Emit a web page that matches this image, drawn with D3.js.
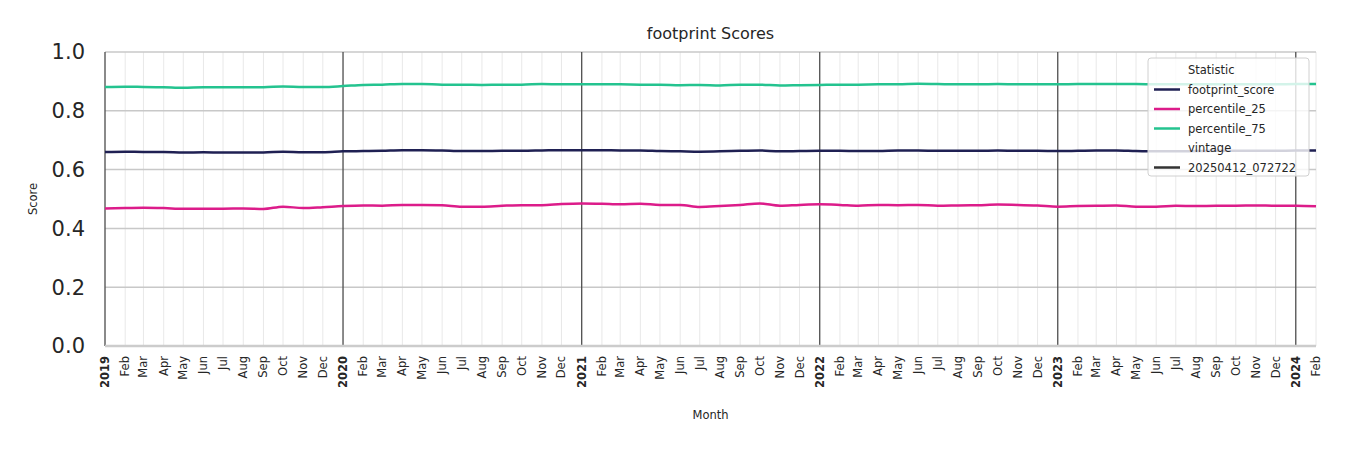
<!DOCTYPE html><html><head><meta charset="utf-8">
<script src="https://cdn.jsdelivr.net/npm/d3@7"></script>
<style>body{margin:0;background:#fff;font-family:"DejaVu Sans",sans-serif}</style></head><body>
<svg id="c" width="1350" height="450"></svg>
<script>
const monthNames=["Jan","Feb","Mar","Apr","May","Jun","Jul","Aug","Sep","Oct","Nov","Dec"];
const footprint=[.660,.661,.660,.660,.658,.659,.658,.658,.658,.661,.659,.659,.662,.663,.664,.666,.666,.665,.663,.663,.664,.664,.665,.666,.666,.666,.665,.665,.663,.662,.661,.662,.664,.665,.662,.663,.664,.664,.663,.663,.665,.665,.664,.664,.664,.665,.664,.664,.663,.664,.665,.665,.663,.662,.662,.663,.664,.664,.664,.664,.665,.665];
const p25=[.468,.469,.470,.469,.467,.467,.467,.468,.466,.474,.469,.472,.476,.478,.477,.480,.480,.479,.474,.474,.477,.479,.479,.483,.485,.484,.482,.484,.480,.480,.473,.476,.480,.485,.477,.480,.482,.480,.477,.480,.479,.480,.477,.478,.479,.481,.480,.478,.474,.476,.477,.478,.474,.474,.477,.476,.477,.477,.478,.477,.477,.475];
const p75=[.881,.882,.881,.880,.878,.880,.880,.880,.880,.883,.881,.881,.884,.888,.889,.891,.891,.889,.889,.888,.889,.889,.891,.890,.890,.890,.890,.889,.889,.887,.888,.886,.889,.889,.886,.887,.888,.889,.889,.890,.890,.892,.891,.890,.890,.891,.890,.890,.890,.891,.891,.891,.891,.890,.890,.890,.890,.890,.890,.890,.891,.891];
const yTicks=[0,0.2,0.4,0.6,0.8,1.0];
const series=[{name:"footprint_score",values:footprint,color:"#1f2053"},{name:"percentile_25",values:p25,color:"#dc1c8a"},{name:"percentile_75",values:p75,color:"#24c38f"}];
const dates=footprint.map((_,i)=>new Date(2019,i,1));
const svg=d3.select("#c");
const L=105,R=1316,T=52,B=346;
const x=d3.scaleTime().domain([dates[0],dates[dates.length-1]]).range([L,R]);
const y=d3.scaleLinear().domain([0,1]).range([B,T]);
// minor month grid
svg.append("g").selectAll("line").data(dates).join("line").attr("x1",d=>x(d)).attr("x2",d=>x(d)).attr("y1",T).attr("y2",B).attr("stroke","#e2e2e2").attr("stroke-width",0.8);
// horizontal grid
svg.append("g").selectAll("line").data(yTicks).join("line").attr("x1",L).attr("x2",R).attr("y1",d=>y(d)).attr("y2",d=>y(d)).attr("stroke","#c8c8c8").attr("stroke-width",1.5);
// year lines
svg.append("g").selectAll("line").data(dates.filter(d=>d.getMonth()===0)).join("line").attr("x1",d=>x(d)).attr("x2",d=>x(d)).attr("y1",T).attr("y2",B).attr("stroke","#444").attr("stroke-width",1.2);
// lines
const line=d3.line().x((d,i)=>x(dates[i])).y(d=>y(d)).curve(d3.curveMonotoneX);
series.forEach(s=>svg.append("path").attr("d",line(s.values)).attr("fill","none").attr("stroke",s.color).attr("stroke-width",2.5));
// y axis labels
svg.append("g").selectAll("text").data(yTicks).join("text").attr("x",L-20).attr("y",d=>y(d)).attr("dy","0.35em").attr("text-anchor","end").attr("font-size",21).attr("fill","#262626").text(d=>d.toFixed(1));
svg.append("line").attr("x1",L).attr("x2",R).attr("y1",B).attr("y2",B).attr("stroke","#cccccc").attr("stroke-width",2.5);
// x labels
svg.append("g").selectAll("text").data(dates).join("text")
 .attr("transform",d=>`translate(${x(d)+4},${B+10}) rotate(-90)`).attr("text-anchor","end").attr("font-size",11.5).attr("fill","#262626")
 .attr("font-weight",d=>d.getMonth()===0?"bold":"normal").text(d=>d.getMonth()===0?d.getFullYear():monthNames[d.getMonth()]);
svg.append("text").attr("x",(L+R)/2).attr("y",419).attr("text-anchor","middle").attr("font-size",11.5).attr("fill","#262626").text("Month");
svg.append("text").attr("transform",`translate(37,${(T+B)/2}) rotate(-90)`).attr("text-anchor","middle").attr("font-size",11.5).attr("fill","#262626").text("Score");
svg.append("text").attr("x",(L+R)/2).attr("y",39).attr("text-anchor","middle").attr("font-size",16).attr("fill","#262626").text("footprint Scores");
// legend
const lg=svg.append("g").attr("transform","translate(1148,58)");
lg.append("rect").attr("width",161).attr("height",118).attr("rx",3).attr("fill","#fff").attr("fill-opacity",0.8).attr("stroke","#d0d0d0");
const items=[{t:"Statistic",h:true},...series.map(s=>({t:s.name,c:s.color})),{t:"vintage",h:true},{t:"20250412_072722",c:"#333"}];
items.forEach((it,i)=>{const yy=12+i*19.5;
 if(it.c) lg.append("line").attr("x1",6).attr("x2",32).attr("y1",yy).attr("y2",yy).attr("stroke",it.c).attr("stroke-width",2.5);
 lg.append("text").attr("x",40).attr("y",yy).attr("dy","0.35em").attr("font-size",11.5).attr("fill","#262626").text(it.t);});
</script></body></html>
